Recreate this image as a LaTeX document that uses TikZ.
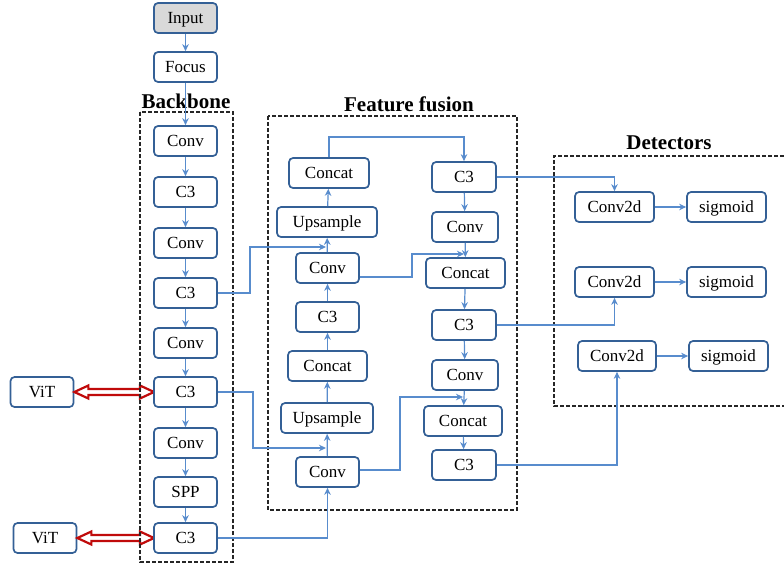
\documentclass[tikz,border=0pt]{standalone}
\usepackage{fontspec}
\setmainfont{Liberation Serif}
\usetikzlibrary{arrows.meta,calc}
\definecolor{boxblue}{RGB}{52,96,150}
\definecolor{linkblue}{RGB}{88,140,205}
\definecolor{vitred}{RGB}{192,10,10}
\definecolor{inputgray}{RGB}{217,217,217}
\begin{document}
\begin{tikzpicture}[x=1pt,y=-1pt,
  blk/.style={draw=boxblue, line width=1.7pt, rounded corners=4pt, fill=white,
    minimum height=30pt, minimum width=63pt, inner sep=0pt,
    text height=14pt, text depth=3.5pt,
    font=\fontsize{17}{20}\selectfont},
  link/.style={draw=linkblue, line width=1.2pt, -{Stealth[length=7pt,width=6.5pt]}},
  group/.style={draw=black!85, line width=1.6pt, dash pattern=on 4pt off 2pt},
  grouptitle/.style={font=\bfseries\fontsize{21}{24}\selectfont},
  vitarrow/.style={draw=vitred, line width=2.2pt, fill=white, line join=miter}]
\useasboundingbox (0,0) rectangle (784,568);

% double-headed hollow arrow between two nodes
\newcommand{\hollowlink}[2]{%
  \draw[vitarrow] (#1.east) -- ++(14,-6.5) -- ++(0,3.5)
    -- ($(#2.west)+(-14,-3)$) -- ++(0,-3.5) -- (#2.west) -- ++(-14,6.5)
    -- ++(0,-3.5) -- ($(#1.east)+(14,3)$) -- ++(0,3.5) -- cycle;}

% transformer links
\node[blk] (vit1) at (42,392) {ViT};
\node[blk] (vit2) at (45,538) {ViT};
\coordinate (b6w) at (154,392);
\coordinate (b9w) at (154,538);
\hollowlink{vit1}{b6w}
\hollowlink{vit2}{b9w}

% group frames
\draw[group] (140,112) rectangle (233,562);
\draw[group] (268,116) rectangle (517,510);
\draw[group] (790,156) -- (554,156) -- (554,406) -- (790,406);
\node[grouptitle] (tbb) at (186,101) {Backbone};
\node[grouptitle] (tff) at (409,104) {Feature fusion};
\node[grouptitle] (tdet) at (669,143) {Detectors};

% backbone column
\node[blk, fill=inputgray] (input) at (185.5,18) {Input};
\node[blk] (focus) at (185.5,67) {Focus};
\node[blk] (b1) at (185.5,141) {Conv};
\node[blk] (b2) at (185.5,192) {C3};
\node[blk] (b3) at (185.5,243) {Conv};
\node[blk] (b4) at (185.5,293) {C3};
\node[blk] (b5) at (185.5,343) {Conv};
\node[blk] (b6) at (185.5,392) {C3};
\node[blk] (b7) at (185.5,443) {Conv};
\node[blk] (b8) at (185.5,492) {SPP};
\node[blk] (b9) at (185.5,538) {C3};

% feature fusion, upward path
\node[blk] (u1) at (327.5,472) {Conv};
\node[blk, minimum width=92pt] (u2) at (327,418) {Upsample};
\node[blk, minimum width=79pt] (u3) at (327.5,366) {Concat};
\node[blk] (u4) at (327.5,317) {C3};
\node[blk] (u5) at (327.5,268) {Conv};
\node[blk, minimum width=100pt] (u6) at (327,222) {Upsample};
\node[blk, minimum width=80pt] (u7) at (329,173) {Concat};

% feature fusion, downward path
\node[blk, minimum width=64pt] (d1) at (464,177) {C3};
\node[blk, minimum width=66pt] (d2) at (465,227) {Conv};
\node[blk, minimum width=79pt] (d3) at (465.5,273) {Concat};
\node[blk, minimum width=64pt] (d4) at (464,325) {C3};
\node[blk, minimum width=66pt] (d5) at (465,375) {Conv};
\node[blk, minimum width=78pt] (d6) at (463,421) {Concat};
\node[blk, minimum width=64pt] (d7) at (464,465) {C3};

% detection heads
\node[blk, minimum width=79pt] (h1) at (614.5,207) {Conv2d};
\node[blk, minimum width=79pt] (s1) at (726.5,207) {sigmoid};
\node[blk, minimum width=79pt] (h2) at (614.5,282) {Conv2d};
\node[blk, minimum width=79pt] (s2) at (726.5,282) {sigmoid};
\node[blk, minimum width=78pt] (h3) at (617,356) {Conv2d};
\node[blk, minimum width=79pt] (s3) at (728.5,356) {sigmoid};

% backbone chain
\foreach \a/\b in {input/focus, focus/b1, b1/b2, b2/b3, b3/b4, b4/b5, b5/b6, b6/b7, b7/b8, b8/b9}
  \draw[link] (\a) -- (\b);

% upward chain
\foreach \a/\b in {u1/u2, u2/u3, u3/u4, u4/u5, u5/u6, u6/u7}
  \draw[link] (\a) -- (\b);

% downward chain
\foreach \a/\b in {d1/d2, d2/d3, d3/d4, d4/d5, d5/d6, d6/d7}
  \draw[link] (\a) -- (\b);

% heads
\draw[link] (h1) -- (s1);
\draw[link] (h2) -- (s2);
\draw[link] (h3) -- (s3);

% junction points on the vertical links
\coordinate (j1) at (326,247);
\coordinate (j2) at (326,448);
\coordinate (j3) at (464,254);
\coordinate (j4) at (463,397);

% lateral links from the backbone
\draw[link] (b4.east) -| (250,247) -- (j1);
\draw[link] (b6.east) -| (253,448) -- (j2);
\draw[link] (b9.east) -| (u1.south);

% top of the upward path into the downward path
\draw[link] (u7.north) |- (464,137) -- (d1.north);

% lateral links across the fusion block
\draw[link] (u5.east |- 0,277) -| (412,254) -- (j3);
\draw[link] (u1.east |- 0,470) -| (400,397) -- (j4);

% outputs to the heads
\draw[link] (d1.east) -| (h1.north);
\draw[link] (d4.east) -| (h2.south);
\draw[link] (d7.east) -| (h3.south);
\end{tikzpicture}
\end{document}
